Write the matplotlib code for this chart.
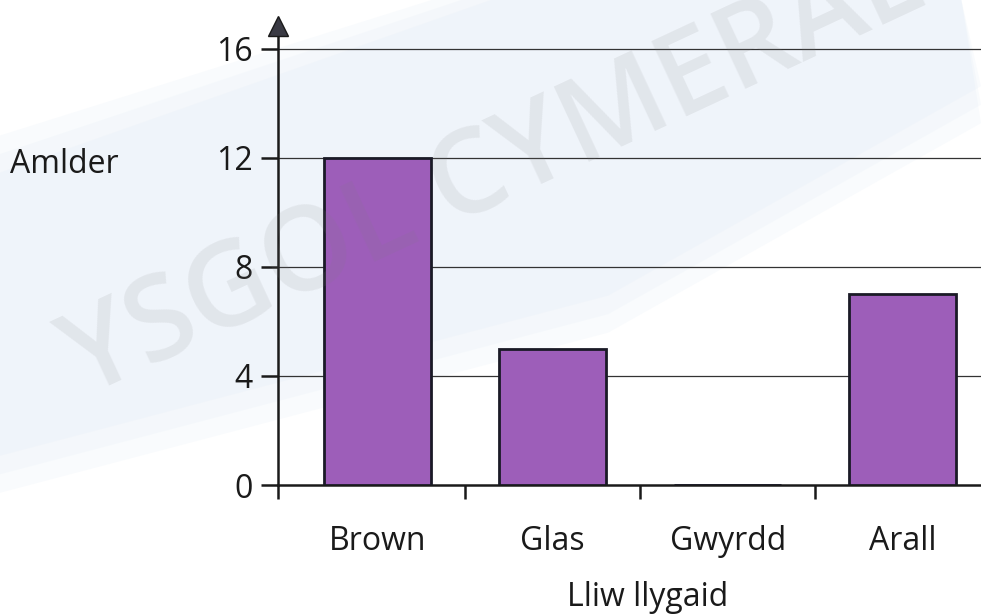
import matplotlib

matplotlib.use("Agg")
import matplotlib.pyplot as plt
import numpy as np

categories = ["Brown", "Glas", "Gwyrdd", "Arall"]
frequencies = [12, 5, 0, 7]
y_ticks = [0, 4, 8, 12, 16]

plt.rcParams["font.family"] = ["Open Sans", "DejaVu Sans"]
INK = "#1a1a1a"

fig = plt.figure(figsize=(9.81, 6.16), dpi=100)

# pale blue swoosh behind the chart, layered so the edges fade out
bg = fig.add_axes([0, 0, 1, 1], zorder=-1)
bg.set_xlim(0, 1)
bg.set_ylim(0, 1)
bg.axis("off")
for grow in [0.06, 0.03, 0.0]:
    bg.fill([0, 0.5 - grow, 0.98, 1.0, 0.62, 0.0],
            [0.72 + grow, 1.0, 1.0, 0.86 - grow, 0.52 - grow, 0.26 - grow],
            color="#dbe8f5", alpha=0.16, linewidth=0)

ax = fig.add_axes([278 / 981, 131 / 616, 703 / 981, 469 / 616])
ax.patch.set_alpha(0)

x = np.arange(len(categories))
ax.bar(x, frequencies, width=0.61, color="#9d5eb9", edgecolor="#1a1a26",
       linewidth=2.0, zorder=3)

ax.set_xlim(-0.57, 3.447)
ax.set_ylim(0, 17.2)

for v in y_ticks[1:]:
    ax.axhline(v, color="#333333", linewidth=0.9, zorder=1)

for side in ["top", "right"]:
    ax.spines[side].set_visible(False)
for side in ["left", "bottom"]:
    ax.spines[side].set_linewidth(1.8)
    ax.spines[side].set_color(INK)
ax.spines["left"].set_bounds(0, 16.6)

# arrow head on the y-axis
ax.plot([-0.57], [16.85], marker="^", markersize=14, color="#3a3a44",
        markeredgecolor=INK, clip_on=False, zorder=5)

ax.set_yticks(y_ticks)
ax.set_yticklabels([str(v) for v in y_ticks], fontsize=23, color=INK)
ax.tick_params(axis="y", length=12, width=1.8, pad=6, color=INK)

# boundary tick marks, category names in between
ax.set_xticks([-0.57, 0.5, 1.5, 2.5])
ax.set_xticklabels([])
ax.tick_params(axis="x", which="major", length=10, width=1.8, color=INK)
ax.set_xticks(x, minor=True)
ax.set_xticklabels(categories, minor=True, fontsize=23, color=INK)
ax.tick_params(axis="x", which="minor", length=0, pad=29)

fig.text(10 / 981, 1 - 165 / 616, "Amlder", fontsize=23, ha="left",
         va="center", color=INK)
fig.text(648 / 981, 1 - 597 / 616, "Lliw llygaid", fontsize=23, ha="center",
         va="center", color=INK)

# watermark over the chart
fig.text(85 / 981, 1 - 397 / 616, "YSGOL CYMERAEG", fontsize=84,
         color="#808080", alpha=0.12, fontweight="semibold", rotation=25,
         ha="left", va="baseline", rotation_mode="anchor", zorder=10)

fig.savefig("out.png", dpi=100)
plt.close(fig)
